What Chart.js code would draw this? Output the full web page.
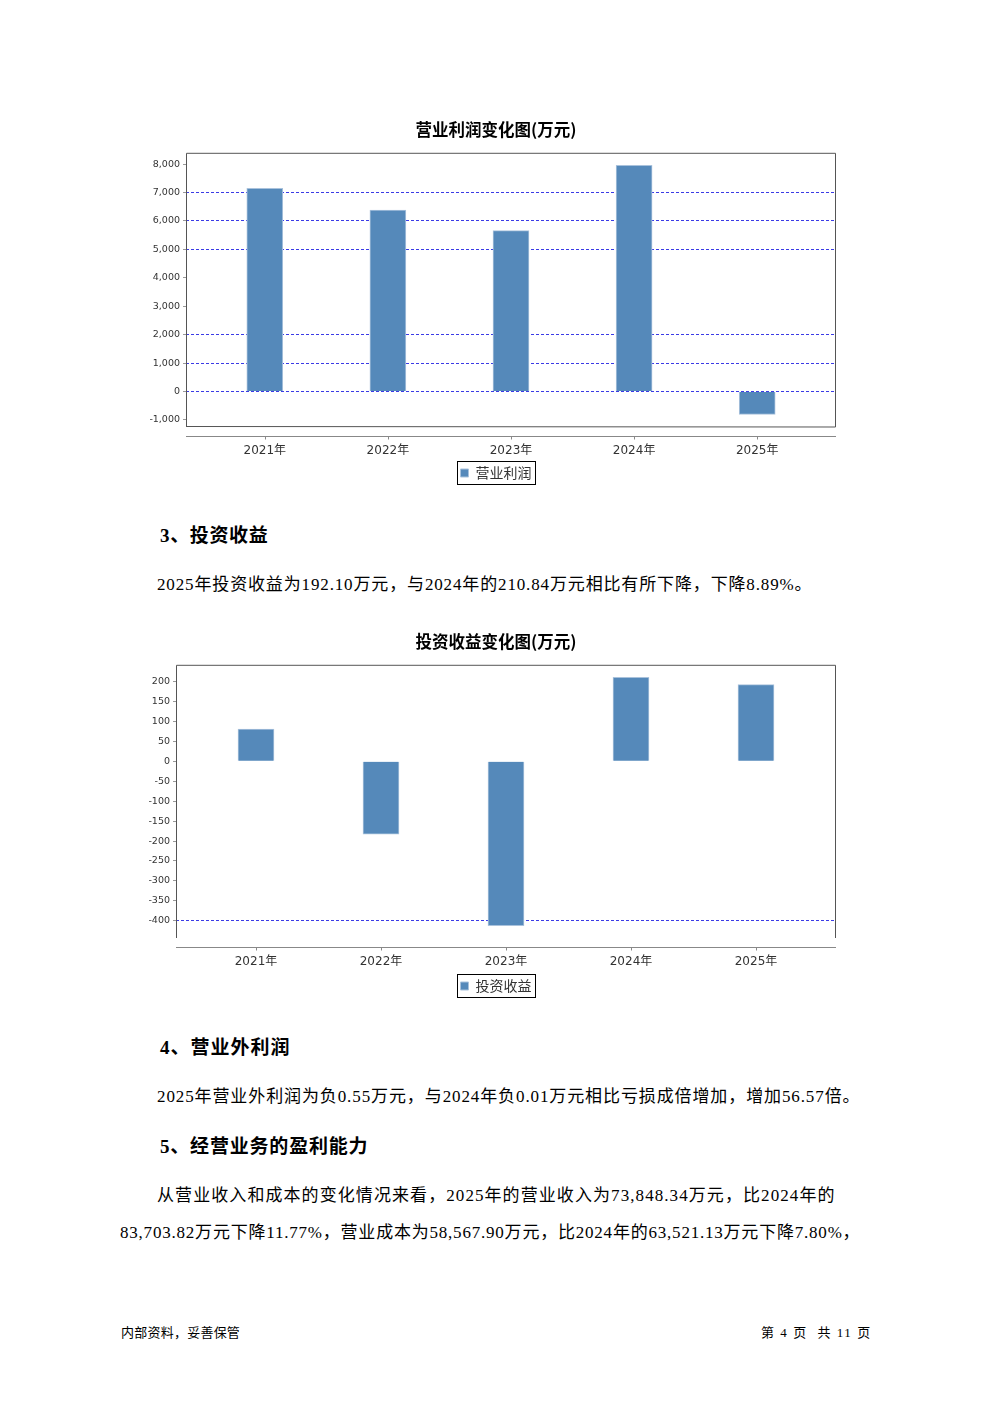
<!DOCTYPE html>
<html lang="zh-CN">
<head>
<meta charset="UTF-8">
<title>投资收益</title>
<style>
  body { margin: 0; background: #fff; }
  .page { position: relative; width: 992px; height: 1403px; overflow: hidden; background: #fff; }
  .t { position: absolute; white-space: nowrap; line-height: 1; color: #000;
       font-family: 'Liberation Serif', 'Noto Sans CJK SC', serif; font-size: 17px; }
  .h { font-weight: bold; font-size: 19px; }
  .f { font-size: 13px; }
  canvas { position: absolute; left: 0; }
</style>
</head>
<body>
<div class="page">
  <canvas id="profitChart" width="992" height="400" style="top:100px"></canvas>

  <div class="t h" style="left:160px;top:526px" data-w="108">3、投资收益</div>
  <div class="t" style="left:157px;top:576px" data-w="655">2025年投资收益为192.10万元，与2024年的210.84万元相比有所下降，下降8.89%。</div>

  <canvas id="investChart" width="992" height="400" style="top:612px"></canvas>

  <div class="t h" style="left:160px;top:1038px" data-w="130">4、营业外利润</div>
  <div class="t" style="left:157px;top:1088px" data-w="703">2025年营业外利润为负0.55万元，与2024年负0.01万元相比亏损成倍增加，增加56.57倍。</div>
  <div class="t h" style="left:160px;top:1137px" data-w="208">5、经营业务的盈利能力</div>
  <div class="t" style="left:157px;top:1187px" data-w="678">从营业收入和成本的变化情况来看，2025年的营业收入为73,848.34万元，比2024年的</div>
  <div class="t" style="left:120px;top:1224px" data-w="740">83,703.82万元下降11.77%，营业成本为58,567.90万元，比2024年的63,521.13万元下降7.80%，</div>

  <div class="t f" style="left:121px;top:1326px" data-w="119">内部资料，妥善保管</div>
  <div class="t f" style="left:761px;top:1326px" data-w="110">第 4 页&nbsp;&nbsp;共 11 页</div>
</div>

<script src="https://cdn.jsdelivr.net/npm/chart.js@4.4.0/dist/chart.umd.min.js"></script>
<script>
  const categories = ['2021年', '2022年', '2023年', '2024年', '2025年'];

  const profitValues = [7150, 6380, 5660, 7960, -810];
  const profitTicks = [-1000, 0, 1000, 2000, 3000, 4000, 5000, 6000, 7000, 8000];

  const investValues = [81, -183, -412, 210.84, 192.10];
  const investTicks = [-400, -350, -300, -250, -200, -150, -100, -50, 0, 50, 100, 150, 200];

  // stretch each text line to the width it has in the page
  document.querySelectorAll('.t').forEach(el => {
    const n = el.textContent.length;
    const natural = el.getBoundingClientRect().width;
    const target = +el.dataset.w;
    el.style.letterSpacing = ((target - natural) / (n - 0.5)) + 'px';
  });

  const sans = "'DejaVu Sans', 'Noto Sans CJK SC', sans-serif";

  // plot box, separate x axis line and the framed legend
  const frame = {
    id: 'frame',
    afterDraw(chart, args, o) {
      const { ctx, chartArea: a, scales: { x } } = chart;
      ctx.save();
      ctx.lineWidth = 1;
      ctx.strokeStyle = '#555';
      ctx.beginPath();
      ctx.moveTo(a.left + 0.5, a.bottom);
      ctx.lineTo(a.left + 0.5, a.top + 0.5);
      ctx.lineTo(a.right - 0.5, a.top + 0.5);
      ctx.lineTo(a.right - 0.5, a.bottom);
      if (o.closed) ctx.lineTo(a.left + 0.5, a.bottom - 0.5);
      ctx.stroke();

      const y = Math.round(a.bottom + 9) + 0.5;
      ctx.strokeStyle = '#888';
      ctx.beginPath();
      ctx.moveTo(a.left, y);
      ctx.lineTo(a.right, y);
      x.ticks.forEach(t => {
        const px = Math.round(x.getPixelForValue(t.value)) + 0.5;
        ctx.moveTo(px, y);
        ctx.lineTo(px, y + 3);
      });
      ctx.stroke();

      const hb = chart.legend.legendHitBoxes[0];
      if (hb) {
        ctx.strokeStyle = '#000';
        ctx.strokeRect(Math.round(hb.left - 4) + 0.5, Math.round(hb.top - 5) + 0.5,
                       Math.round(hb.width + 7), Math.round(hb.height + 9));
      }
      ctx.restore();
    }
  };

  function makeChart(id, label, values, ticks, opt) {
    const lo = Math.min(...values);
    const hi = Math.max(...values);
    const pad = (hi - lo) * 0.05;
    return new Chart(document.getElementById(id), {
      type: 'bar',
      data: {
        datasets: [{
          label: label,
          data: values.map((v, i) => ({ x: i + 1, y: v })),
          backgroundColor: '#5589ba',
          borderColor: '#a9c2dc',
          borderWidth: 1,
          barThickness: 36
        }]
      },
      plugins: [frame],
      options: {
        responsive: false,
        animation: false,
        layout: { padding: { left: opt.left, right: opt.left, top: 0, bottom: opt.bottom } },
        plugins: {
          title: {
            display: true, text: opt.title, color: '#000',
            font: { family: "'Noto Sans CJK SC', sans-serif", size: 16.5, weight: 'bold' },
            padding: { top: 20, bottom: 13 }
          },
          legend: {
            position: 'bottom',
            labels: {
              boxWidth: 8, boxHeight: 8, padding: 6, color: '#333',
              font: { family: "'Noto Sans CJK SC', sans-serif", size: 14 }
            }
          },
          tooltip: { enabled: false },
          frame: { closed: opt.closed }
        },
        scales: {
          x: {
            type: 'linear', min: 0.36, max: 5.64, offset: false,
            grid: { display: false, offset: false },
            border: { display: false },
            afterBuildTicks: s => { s.ticks = categories.map((c, i) => ({ value: i + 1 })); },
            afterFit: s => { s.height = opt.xHeight; },
            ticks: {
              padding: 9, color: '#333', autoSkip: false, maxRotation: 0,
              font: { family: sans, size: 12 },
              callback: v => categories[v - 1]
            }
          },
          y: {
            min: lo - pad, max: hi + pad,
            afterBuildTicks: s => { s.ticks = ticks.map(v => ({ value: v })); },
            afterFit: s => { s.width = 46; },
            border: { display: false, dash: [3, 2] },
            grid: {
              color: c => (c.tick && opt.grid.includes(c.tick.value)) ? '#3b3be6' : 'rgba(0,0,0,0)',
              tickColor: '#999', tickLength: 3, lineWidth: 1
            },
            ticks: {
              padding: 3, color: '#333',
              font: { family: sans, size: 9.5 },
              callback: v => v.toLocaleString('en-US')
            }
          },
          // empty right-hand spacer so title and legend sit on the page centre
          spacer: {
            type: 'linear', position: 'right', display: true,
            grid: { display: false }, border: { display: false },
            ticks: { display: false },
            afterFit: s => { s.width = opt.spacer; }
          }
        }
      }
    });
  }

  makeChart('profitChart', '营业利润', profitValues, profitTicks, {
    title: '营业利润变化图(万元)', left: 140, spacer: 16, bottom: 10, xHeight: 33, closed: true,
    grid: [0, 1000, 2000, 5000, 6000, 7000]
  });

  makeChart('investChart', '投资收益', investValues, investTicks, {
    title: '投资收益变化图(万元)', left: 130, spacer: 26, bottom: 9, xHeight: 35, closed: false,
    grid: [-400]
  });
</script>
</body>
</html>
